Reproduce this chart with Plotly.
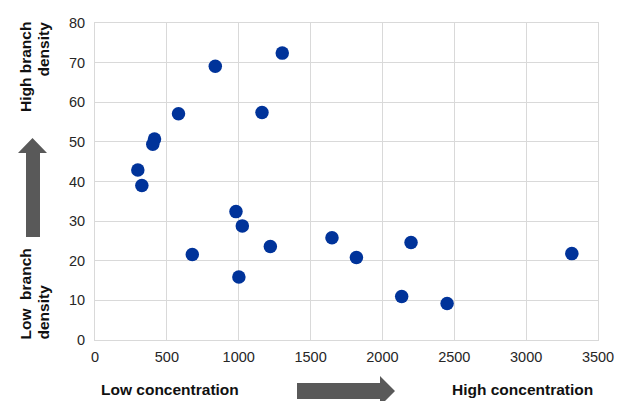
import plotly.graph_objects as go

concentration = [1303, 837, 581, 1162, 414, 402, 298, 326, 981, 1025,
                 1220, 677, 1001, 1649, 1819, 2199, 2134, 2450, 3318]
branch_density = [72.4, 69.1, 57.1, 57.4, 50.7, 49.4, 42.9, 39.0, 32.4, 28.8,
                  23.6, 21.6, 15.9, 25.8, 20.8, 24.6, 11.0, 9.2, 21.8]
x_ticks = [0, 500, 1000, 1500, 2000, 2500, 3000, 3500]
y_ticks = [0, 10, 20, 30, 40, 50, 60, 70, 80]

W, H = 618, 401
L, R, T, B = 95, 20, 23, 61
PW, PH = W - L - R, H - T - B


def px(x):
    return (x - L) / PW


def py(y):
    return (H - B - y) / PH


fig = go.Figure()
fig.add_trace(go.Scatter(
    x=concentration, y=branch_density, mode="markers",
    marker=dict(color="#00339A", size=13.5, line=dict(width=0)),
    cliponaxis=False, showlegend=False, hoverinfo="skip"))

grid = "#d9d9d9"
tickfont = dict(family="Liberation Sans, Arial", size=14.5, color="#262626")
fig.update_xaxes(range=[0, 3500], tickvals=x_ticks, showgrid=True, gridcolor=grid,
                 gridwidth=1, showline=True, linecolor=grid, mirror=True,
                 zeroline=False, ticks="", tickfont=tickfont, automargin=False,
                 ticklabelstandoff=4, fixedrange=True)
fig.update_yaxes(range=[0, 80], tickvals=y_ticks, showgrid=True, gridcolor=grid,
                 gridwidth=1, showline=True, linecolor=grid, mirror=True,
                 zeroline=False, ticks="", tickfont=tickfont, automargin=False,
                 ticklabelstandoff=6, fixedrange=True)

arrow_col = "#595959"
up = (f"M {px(26)} {py(237)} L {px(40)} {py(237)} L {px(40)} {py(153)} "
      f"L {px(47)} {py(153)} L {px(32.5)} {py(138)} L {px(18)} {py(153)} "
      f"L {px(26)} {py(153)} Z")
right = (f"M {px(297)} {py(383)} L {px(380)} {py(383)} L {px(380)} {py(376)} "
         f"L {px(395)} {py(391)} L {px(380)} {py(406)} L {px(380)} {py(399)} "
         f"L {px(297)} {py(399)} Z")
for p in (up, right):
    fig.add_shape(type="path", path=p, xref="paper", yref="paper",
                  fillcolor=arrow_col, line=dict(width=0), layer="above")

bold = dict(family="Liberation Sans, Arial", size=15.5, color="#111")
ann = [
    dict(text="<b>High branch</b>", x=px(25), y=py(21), yanchor="top", xanchor="center", textangle=-90),
    dict(text="<b>density</b>", x=px(43), y=py(21), yanchor="top", xanchor="center", textangle=-90),
    dict(text="<b>Low  branch</b>", x=px(25), y=py(341), yanchor="bottom", xanchor="center", textangle=-90),
    dict(text="<b>density</b>", x=px(43), y=py(341), yanchor="bottom", xanchor="center", textangle=-90),
    dict(text="<b>Low concentration</b>", x=px(170), y=py(389), xanchor="center", yanchor="middle"),
    dict(text="<b>High concentration</b>", x=px(522), y=py(389), xanchor="center", yanchor="middle"),
]
for a in ann:
    fig.add_annotation(xref="paper", yref="paper", showarrow=False, font=bold,
                       borderpad=0, **a)

fig.update_layout(
    width=W, height=H, margin=dict(l=L, r=R, t=T, b=B, autoexpand=False),
    plot_bgcolor="white", paper_bgcolor="white",
    font=dict(family="Liberation Sans, Arial", size=14.5, color="#262626"),
)
fig.write_html(
    "out.html",
    config={"displayModeBar": False},
    post_script="document.body.style.margin='0';document.body.style.overflow='hidden';",
)
